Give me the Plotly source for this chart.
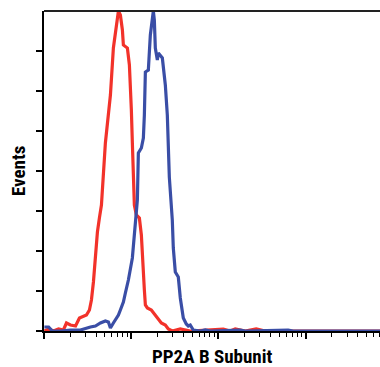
import plotly.graph_objects as go

# Fluorescence intensity (log scale) and event counts
red_x = [1.01, 1.13, 1.28, 1.47, 1.67, 1.81, 2.01, 2.30, 2.55, 2.84, 3.07, 3.32, 3.50, 3.69, 3.89,
         4.10, 4.32, 4.56, 5.06, 5.48, 5.78, 6.25, 6.77, 7.14, 7.52, 7.93, 8.14, 9.05, 9.54, 9.79,
         10.05, 10.32, 10.60, 10.88, 11.47, 12.42, 13.09, 13.44, 14.17, 14.55, 15.33, 17.03, 18.93,
         20.49, 22.18, 24.65, 26.68, 29.64, 36.61, 47.66, 113.8, 136.9, 156.2, 203.3, 271.8, 344.5, 7153]
red_y = [0, 1, 0, 1, 0.5, 4, 3, 2.5, 6.5, 7.5, 8, 10.5, 15.5, 24.5, 38,
         49.5, 56.5, 63, 94, 106.5, 118, 141.5, 153, 160, 158, 150.5, 143, 141.5, 133, 123,
         110.5, 94, 77, 63, 58, 56.5, 48, 36.5, 20.5, 13, 11.5, 10.5, 8,
         5.5, 4, 3, 1, 0, 1, 0, 1, 0, 1, 0, 1, 0, 0]

blue_x = [1.01, 1.13, 1.25, 1.55, 2.01, 2.62, 3.41, 3.89, 4.44, 5.06, 5.48, 5.78, 6.25, 6.77, 7.14,
          7.52, 8.14, 8.58, 9.29, 10.32, 10.88, 11.47, 11.78, 12.09, 13.09, 13.80, 14.17, 14.55,
          15.74, 16.59, 17.49, 17.96, 18.44, 18.93, 19.96, 20.49, 22.78, 24.65, 25.98, 26.68, 27.39,
          29.64, 30.43, 32.08, 34.73, 36.61, 39.63, 42.89, 45.21, 47.66, 51.59, 62.03, 70.78, 80.77,
          178.2, 203.3, 632, 721, 7153]
blue_y = [2, 2, 0, 0, 0.5, 0.5, 2, 2.5, 4, 5, 4.5, 1.5, 4, 6, 8,
          10.5, 14.5, 19, 25.5, 36.5, 49.5, 58, 65.5, 89, 91.5, 96.5, 108, 129.5,
          130.5, 148, 158, 160, 155.5, 141.5, 135.5, 139, 136.5, 123, 108, 94, 77,
          55.5, 41.5, 29.5, 27, 16.5, 6.5, 3.5, 2.5, 3, 0.5, 0, 0.5, 0,
          0.5, 0, 0.5, 0, 0]

y_ticks = [0, 20, 40, 60, 80, 100, 120, 140]
x_major = [1, 10, 100, 1000]
x_minor = [m * d for d in [1, 10, 100, 1000] for m in range(2, 10)]

fig = go.Figure()
fig.add_trace(go.Scatter(x=red_x, y=red_y, mode="lines",
                         line=dict(color="#F2322A", width=3.2), showlegend=False))
fig.add_trace(go.Scatter(x=blue_x, y=blue_y, mode="lines",
                         line=dict(color="#3A4EA6", width=3.2), showlegend=False))

title_font = dict(family="Liberation Sans Narrow, Arial Narrow, Roboto Condensed, sans-serif",
                  size=19, color="black")

fig.update_layout(
    width=380, height=367,
    margin=dict(l=44, r=0, t=11, b=36),
    plot_bgcolor="white", paper_bgcolor="white",
    xaxis=dict(type="log", range=[0, 3.8545], showgrid=False, zeroline=False,
               showline=True, linecolor="black", linewidth=2,
               tickvals=x_major, ticks="outside", ticklen=6, tickwidth=1.5, tickcolor="black",
               showticklabels=False,
               minor=dict(tickvals=x_minor, ticks="outside", ticklen=4, tickwidth=1.2,
                          tickcolor="black", showgrid=False)),
    yaxis=dict(range=[0, 160], showgrid=False, zeroline=False,
               showline=True, linecolor="black", linewidth=2,
               tickvals=y_ticks, ticks="outside", ticklen=6, tickwidth=1.5, tickcolor="black",
               showticklabels=False),
    shapes=[dict(type="line", xref="paper", yref="paper", x0=0, x1=1, y0=1, y1=1,
                 line=dict(color="#222222", width=2))],
    annotations=[
        dict(text="<b>PP2A B Subunit</b>", xref="paper", yref="paper", x=0.5, y=0,
             yshift=-25, showarrow=False, yanchor="middle", borderpad=0, font=title_font),
        dict(text="<b>Events</b>", xref="paper", yref="paper", x=0, y=0.5,
             xshift=-26, showarrow=False, textangle=-90, xanchor="center", font=title_font),
    ],
)

fig.write_html("out.html", config={"displayModeBar": False},
               post_script="document.body.style.margin='0';document.body.style.overflow='hidden';")
